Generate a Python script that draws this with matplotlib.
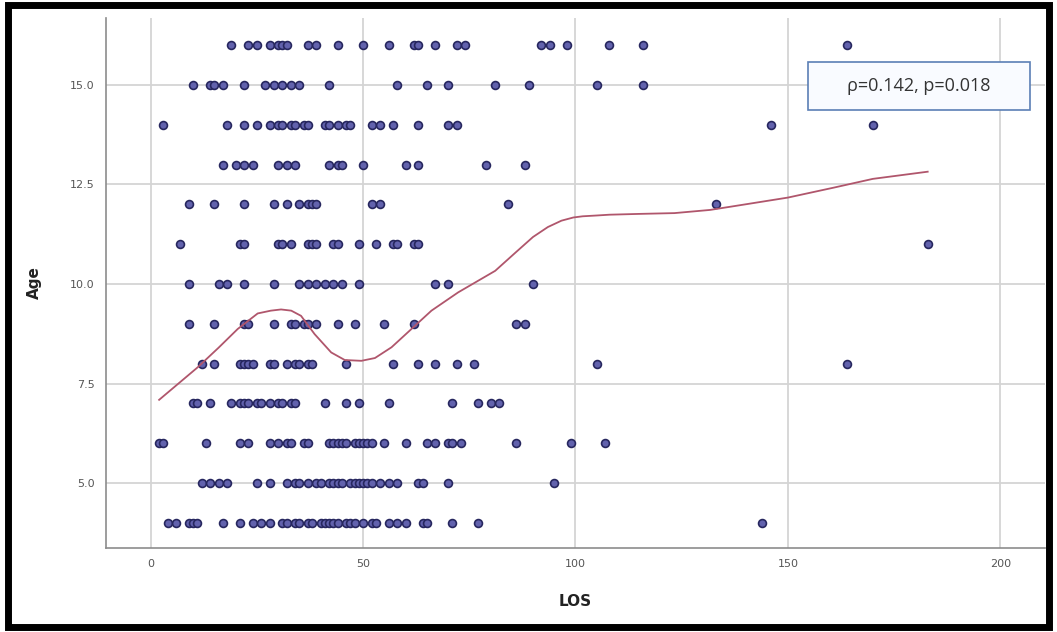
import matplotlib.pyplot as plt
from matplotlib.patches import Rectangle
import numpy as np

los_by_age = {
    16: [19, 23, 25, 28, 30, 31, 32, 37, 39, 44, 50, 56, 62, 63, 67, 72, 74, 92, 94, 98, 108, 116, 164],
    15: [10, 14, 15, 17, 22, 27, 29, 31, 33, 35, 42, 58, 65, 70, 81, 89, 105, 116],
    14: [3, 18, 22, 25, 28, 30, 31, 33, 34, 36, 37, 41, 42, 44, 46, 47, 52, 54, 57, 63, 70, 72, 146, 170],
    13: [17, 20, 22, 24, 30, 32, 34, 42, 44, 45, 50, 60, 63, 79, 88],
    12: [9, 15, 22, 29, 32, 35, 37, 38, 39, 52, 54, 84, 133],
    11: [7, 21, 22, 30, 31, 33, 37, 38, 39, 43, 44, 49, 53, 57, 58, 62, 63, 183],
    10: [9, 16, 18, 22, 29, 35, 37, 39, 41, 43, 45, 49, 67, 70, 90],
    9: [9, 15, 22, 23, 29, 33, 34, 36, 37, 39, 44, 48, 55, 62, 86, 88],
    8: [12, 15, 21, 22, 23, 24, 28, 29, 32, 34, 35, 37, 38, 46, 57, 63, 67, 72, 76, 105, 164],
    7: [10, 11, 14, 19, 21, 22, 23, 25, 26, 28, 30, 31, 33, 34, 41, 46, 49, 56, 71, 77, 80, 82],
    6: [2, 3, 13, 21, 23, 28, 30, 32, 33, 36, 37, 42, 43, 44, 45, 46, 48, 49, 50, 51, 52, 55, 60,
        65, 67, 70, 71, 73, 86, 99, 107],
    5: [12, 14, 16, 18, 25, 28, 32, 34, 35, 37, 39, 40, 42, 43, 44, 45, 47, 48, 49, 50, 51, 52,
        54, 56, 58, 63, 64, 70, 95],
    4: [4, 6, 9, 10, 11, 17, 21, 24, 26, 28, 31, 32, 34, 35, 37, 38, 40, 41, 42, 43, 44, 46, 47,
        48, 50, 52, 53, 56, 58, 60, 64, 65, 71, 77, 144],
}

# loess fit line
fit_los = [2.0, 6, 11.0, 16, 20.5, 25.2, 28.3, 30.7, 33.1, 35.4, 38.6, 42.5, 45.7, 49.6, 52.8,
           56.7, 61.4, 66.1, 72.4, 81.1, 86, 90, 93.5, 96.7, 99.5, 101.7, 105, 108, 115, 123.3,
           131.7, 140, 150, 160.8, 170, 182.9]
fit_age = [7.09, 7.45, 7.9, 8.4, 8.87, 9.26, 9.33, 9.36, 9.33, 9.2, 8.74, 8.28, 8.09, 8.07, 8.14,
           8.41, 8.87, 9.33, 9.79, 10.33, 10.8, 11.18, 11.43, 11.59, 11.67, 11.7, 11.72, 11.74,
           11.76, 11.78, 11.86, 12.0, 12.17, 12.42, 12.64, 12.82]

x_ticks = [0, 50, 100, 150, 200]
y_ticks = [5.0, 7.5, 10.0, 12.5, 15.0]
stat_text = "ρ=0.142, p=0.018"

los = []
age = []
for a, vals in los_by_age.items():
    los += vals
    age += [a] * len(vals)

fig = plt.figure(figsize=(10.57, 6.32), dpi=100)
ax = fig.add_axes([0.1003, 0.133, 0.8883, 0.8385])

ax.set_xlim(-10.5, 210.5)
ax.set_ylim(3.37, 16.68)
ax.set_xticks(x_ticks)
ax.set_yticks(y_ticks)
ax.set_yticklabels([f"{v:.1f}" for v in y_ticks])
ax.grid(True, color="#d4d4d4", linewidth=1.3)
ax.set_axisbelow(True)

for side in ["top", "right"]:
    ax.spines[side].set_visible(False)
for side in ["left", "bottom"]:
    ax.spines[side].set_color("#8c8c8c")
    ax.spines[side].set_linewidth(1.2)

ax.tick_params(length=0, labelsize=8, labelcolor="#555555", pad=8)
for lab in ax.get_xticklabels() + ax.get_yticklabels():
    lab.set_family(["Liberation Sans Narrow", "DejaVu Sans"])

ax.scatter(los, age, s=32, facecolor="#6262ad", edgecolor="#27275f", linewidth=1.2, zorder=3)
ax.plot(fit_los, fit_age, color="#b0566c", linewidth=1.3, zorder=4)

ax.set_xlabel("LOS", fontsize=11, fontweight="bold", color="#222222", labelpad=18)
ax.set_ylabel("Age", fontsize=11, fontweight="bold", color="#222222", labelpad=20)

box = Rectangle((0.7476, 0.8264), 0.2364, 0.0906, transform=ax.transAxes,
                facecolor="#f9fbff", edgecolor="#5b7fb5", linewidth=1.2, zorder=5)
ax.add_patch(box)
ax.text(0.8658, 0.8717, stat_text, transform=ax.transAxes, ha="center", va="center",
        fontsize=13, color="#333333", family=["Open Sans", "DejaVu Sans"], zorder=6)

# black frame around the whole picture
fig.patches.append(Rectangle((0.008, 0.008), 0.984, 0.984, transform=fig.transFigure,
                             fill=False, edgecolor="black", linewidth=5))

fig.savefig("out.png", dpi=100)
